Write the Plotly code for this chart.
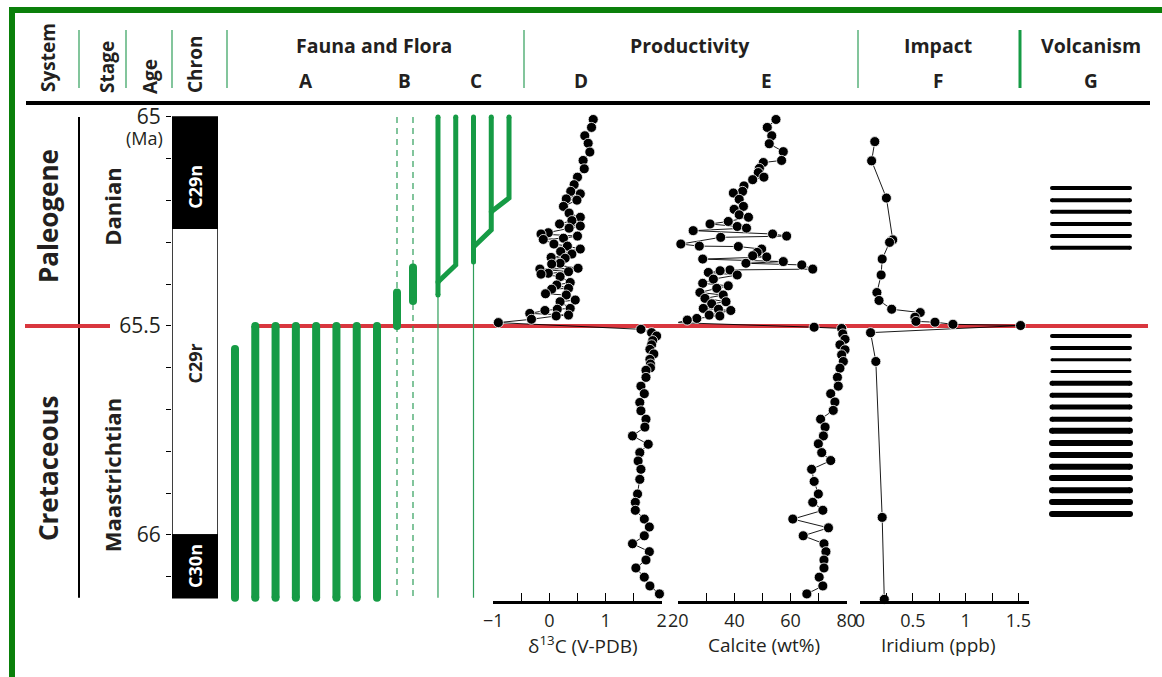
import plotly.graph_objects as go

W, H = 1162, 677

# ------------------------------------------------------------------ data
KPG_AGE = 65.5
age_ticks = [65.0, 65.1, 65.2, 65.3, 65.4, 65.5, 65.6, 65.7, 65.8, 65.9, 66.0, 66.1]
age_tick_labels = ["65", "", "", "", "", "65.5", "", "", "", "", "66", ""]

system_names = ["Paleogene", "Cretaceous"]
system_label_age = [65.237, 65.84]
stage_names = ["Danian", "Maastrichtian"]
stage_label_age = [65.215, 65.857]

chron_names = ["C29n", "C29r", "C30n"]
chron_top = [65.0, 65.266, 66.0]
chron_base = [65.266, 66.0, 66.15]
chron_normal = [True, False, True]
chron_label_age = [65.167, 65.59, 66.074]

# Fauna & flora ranges (ages in Ma)
A_top = [65.555, 65.5, 65.5, 65.5, 65.5, 65.5, 65.5, 65.5]
A_base = [66.15, 66.15, 66.15, 66.15, 66.15, 66.15, 66.15, 66.15]

B_range_top = [65.0, 65.0]
B_range_base = [66.15, 66.15]
B_thick_top = [65.42, 65.36]
B_thick_base = [65.5, 65.44]

C_top = [65.0, 65.0, 65.0, 65.0, 65.0]
C_origin = [65.426, 65.354, 65.347, 65.27, 65.194]
C_parent = [None, 0, None, 2, 3]
C_branch_age = [None, 65.395, None, 65.311, 65.227]
C_thin_base = [66.15, None, 66.15, None, None]

# D: delta13C
d13c_age = [65.006, 65.025, 65.045, 65.063, 65.084, 65.104, 65.124, 65.144, 65.162, 65.178,
            65.184, 65.196, 65.199, 65.214, 65.230, 65.240, 65.248, 65.256, 65.261, 65.266,
            65.277, 65.280, 65.285, 65.290, 65.293, 65.304, 65.309, 65.316, 65.322, 65.328,
            65.336, 65.338, 65.350, 65.352, 65.362, 65.364, 65.370, 65.374, 65.376, 65.382,
            65.396, 65.402, 65.410, 65.412, 65.423, 65.426, 65.438, 65.442, 65.458, 65.460,
            65.463, 65.470, 65.474, 65.476, 65.484, 65.492,
            65.508, 65.516, 65.524, 65.535, 65.545, 65.556, 65.567, 65.580, 65.591, 65.600,
            65.606, 65.623, 65.644, 65.662, 65.683, 65.703, 65.723, 65.742, 65.763, 65.783,
            65.803, 65.823, 65.843, 65.867, 65.902, 65.922, 65.941, 65.962, 65.981, 66.002,
            66.021, 66.040, 66.060, 66.079, 66.101, 66.122, 66.141]
d13c_val = [0.78, 0.75, 0.63, 0.69, 0.72, 0.60, 0.62, 0.50, 0.44, 0.38,
            0.55, 0.30, 0.49, 0.25, 0.35, 0.55, 0.40, 0.18, 0.55, 0.35,
            -0.02, -0.15, 0.50, 0.25, -0.11, 0.08, 0.32, 0.55, 0.20, 0.40,
            0.03, 0.28, 0.19, 0.04, 0.51, -0.17, 0.34, -0.02, -0.15, 0.19,
            0.37, 0.13, 0.34, 0.04, -0.07, 0.30, 0.46, 0.19, 0.37, 0.14,
            -0.08, -0.35, 0.34, 0.12, -0.32, -0.91,
            1.63, 1.82, 1.91, 1.84, 1.82, 1.79, 1.86, 1.79, 1.80, 1.80,
            1.72, 1.72, 1.63, 1.69, 1.61, 1.63, 1.72, 1.70, 1.48, 1.76,
            1.61, 1.58, 1.63, 1.61, 1.57, 1.53, 1.53, 1.69, 1.78, 1.69,
            1.48, 1.78, 1.72, 1.54, 1.69, 1.79, 1.96]

# E: calcite wt%
calc_age = [65.006, 65.025, 65.045, 65.064, 65.083, 65.104, 65.109, 65.123, 65.133, 65.144,
            65.150, 65.165, 65.178, 65.182, 65.197, 65.214, 65.221, 65.234, 65.240, 65.250,
            65.256, 65.262, 65.266, 65.272, 65.280, 65.285, 65.288, 65.304, 65.309, 65.310,
            65.316, 65.324, 65.332, 65.335, 65.340, 65.346, 65.350, 65.354, 65.364, 65.366,
            65.368, 65.372, 65.378, 65.388, 65.398, 65.404, 65.410, 65.420, 65.426, 65.434,
            65.442, 65.447, 65.458, 65.460, 65.463, 65.474, 65.476, 65.482, 65.486, 65.492,
            65.503, 65.506, 65.519, 65.532, 65.545, 65.557, 65.569, 65.585, 65.601, 65.623,
            65.644, 65.662, 65.682, 65.702, 65.723, 65.742, 65.763, 65.782, 65.803, 65.822,
            65.843, 65.872, 65.902, 65.922, 65.941, 65.962, 65.983, 66.002, 66.021, 66.040,
            66.060, 66.079, 66.101, 66.122, 66.141]
calc_val = [54.8, 51.7, 53.3, 52.4, 57.4, 56.8, 50.3, 48.9, 48.5, 50.5,
            46.5, 43.4, 42.9, 39.6, 41.7, 43.2, 39.9, 41.7, 45.0, 37.8,
            31.3, 41.0, 44.3, 25.3, 53.6, 58.6, 35.1, 20.9, 27.5, 41.4,
            49.7, 48.1, 46.5, 51.5, 28.7, 57.4, 44.1, 64.0, 67.9, 38.4,
            34.9, 30.7, 41.0, 32.5, 28.7, 37.8, 33.7, 27.7, 36.0, 29.5,
            37.0, 31.9, 28.9, 34.3, 38.7, 31.0, 34.8, 26.6, 23.2, 19.4,
            68.4, 78.2, 78.6, 79.4, 77.6, 79.4, 78.2, 78.8, 77.6, 76.7,
            77.0, 74.3, 75.8, 75.2, 70.7, 72.3, 71.7, 69.9, 71.1, 74.3,
            67.5, 68.4, 69.9, 67.9, 71.5, 60.8, 73.5, 64.5, 71.9, 72.6,
            71.9, 71.9, 70.2, 71.5, 65.8]

# F: iridium ppb
ir_age = [65.059, 65.105, 65.194, 65.294, 65.300, 65.340, 65.378, 65.420, 65.439, 65.460,
          65.468, 65.479, 65.489, 65.491, 65.496, 65.499, 65.516, 65.585, 65.958, 66.154]
ir_val = [0.14, 0.11, 0.25, 0.31, 0.28, 0.21, 0.20, 0.16, 0.18, 0.30,
          0.57, 0.52, 0.53, 0.71, 0.88, 1.52, 0.10, 0.15, 0.21, 0.23]

# G: volcanic (Deccan) lava layers
volc_age = [65.170, 65.199, 65.227, 65.256, 65.285, 65.313,
            65.524, 65.553, 65.581, 65.609, 65.637, 65.666, 65.694, 65.723,
            65.751, 65.780, 65.809, 65.837, 65.864, 65.893, 65.921, 65.950]
volc_width = [4, 4, 4, 4, 4, 4,
              4, 4, 3, 3, 5, 5, 5, 5, 6, 6, 6, 6, 6, 6, 6, 6]

# ------------------------------------------------------------------ style
FONT = "Open Sans"
TXT = "#231f20"
GREEN = "#169b45"
THIN_GREEN = "#2f9e5a"
RED = "#d9363e"


def px(x):
    return x / W


def py(y):
    return 1 - y / H


fig = go.Figure()


def add_line(xaxis, xs, ys, color, width, dash=None, caps=False):
    fig.add_trace(go.Scatter(x=xs, y=ys, xaxis=xaxis, yaxis="y", mode="lines",
                             line=dict(color=color, width=width, dash=dash),
                             hoverinfo="skip", showlegend=False, cliponaxis=False))
    if caps:
        fig.add_trace(go.Scatter(x=[xs[0], xs[-1]], y=[ys[0], ys[-1]], xaxis=xaxis, yaxis="y",
                                 mode="markers", marker=dict(color=color, size=width, line=dict(width=0)),
                                 hoverinfo="skip", showlegend=False, cliponaxis=False))


# ---- Fauna A
for i, (t, b) in enumerate(zip(A_top, A_base)):
    add_line("x2", [i, i], [t, b], GREEN, 8, caps=True)

# ---- Fauna B
for i in range(len(B_range_top)):
    add_line("x3", [i, i], [B_range_top[i], B_range_base[i]], THIN_GREEN, 1.2, dash="6px,5px")
    add_line("x3", [i, i], [B_thick_top[i], B_thick_base[i]], GREEN, 8, caps=True)

# ---- Fauna C
for i in range(len(C_top)):
    if C_thin_base[i] is not None:
        add_line("x4", [i, i], [C_origin[i], C_thin_base[i]], THIN_GREEN, 1.2)
for i in range(len(C_top)):
    if C_parent[i] is None:
        add_line("x4", [i, i], [C_top[i], C_origin[i]], GREEN, 5, caps=True)
    else:
        add_line("x4", [i, i, C_parent[i]], [C_top[i], C_origin[i], C_branch_age[i]], GREEN, 5, caps=True)

# ---- Geochemistry panels
marker = dict(color="black", size=10, line=dict(color="white", width=0.8))
for xa, ages, vals in (("x5", d13c_age, d13c_val), ("x6", calc_age, calc_val), ("x7", ir_age, ir_val)):
    pairs = sorted(zip(ages, vals))
    fig.add_trace(go.Scatter(x=[p[1] for p in pairs], y=[p[0] for p in pairs], xaxis=xa, yaxis="y",
                             mode="lines+markers", line=dict(color="black", width=0.9),
                             marker=marker, hoverinfo="skip", showlegend=False, cliponaxis=False))

# ---- Volcanism
for a, w in zip(volc_age, volc_width):
    add_line("x8", [0, 1], [a, a], "black", w, caps=True)

# ------------------------------------------------------------------ shapes
shapes = []
# chron column
for name, t, b, n in zip(chron_names, chron_top, chron_base, chron_normal):
    shapes.append(dict(type="rect", xref="x", yref="y", x0=0, x1=1, y0=t, y1=b,
                       fillcolor="black" if n else "white", line=dict(color="black", width=1.5)))
# system divider
shapes.append(dict(type="line", xref="paper", yref="y", x0=px(79), x1=px(79), y0=chron_top[0], y1=66.15,
                   line=dict(color="black", width=2)))
# K-Pg boundary
shapes.append(dict(type="line", xref="paper", yref="y", x0=px(25), x1=px(110), y0=KPG_AGE, y1=KPG_AGE,
                   line=dict(color=RED, width=4)))
shapes.append(dict(type="line", xref="paper", yref="y", x0=px(253), x1=px(1148), y0=KPG_AGE, y1=KPG_AGE,
                   line=dict(color=RED, width=4), layer="below"))
# header rule
shapes.append(dict(type="line", xref="paper", yref="paper", x0=px(26), x1=px(1150), y0=py(103), y1=py(103),
                   line=dict(color="black", width=4)))
# header separators
for sx in (79, 126, 172, 227, 524, 858):
    shapes.append(dict(type="line", xref="paper", yref="paper", x0=px(sx), x1=px(sx), y0=py(30), y1=py(88),
                       line=dict(color=THIN_GREEN, width=1.2)))
shapes.append(dict(type="line", xref="paper", yref="paper", x0=px(1020), x1=px(1020), y0=py(30), y1=py(88),
                   line=dict(color=GREEN, width=3)))
# frame
shapes.append(dict(type="line", xref="paper", yref="paper", x0=px(9), x1=px(1162), y0=py(10), y1=py(10),
                   line=dict(color="#0a800a", width=6)))
shapes.append(dict(type="line", xref="paper", yref="paper", x0=px(12), x1=px(12), y0=py(7), y1=py(677),
                   line=dict(color="#0a800a", width=6)))

# ------------------------------------------------------------------ annotations
ann = []


def txt(text, x, y, size, bold=False, angle=0, color=TXT, xanchor="center", yref="paper", xref="paper"):
    ann.append(dict(text=("<b>%s</b>" % text) if bold else text, x=x, y=y, xref=xref, yref=yref,
                    showarrow=False, textangle=angle, xanchor=xanchor, yanchor="middle",
                    font=dict(family=FONT, size=size, color=color)))


for label, cx, cy in (("System", 48, 58), ("Stage", 107, 67), ("Age", 150, 77), ("Chron", 195, 65)):
    txt(label, px(cx), py(cy), 19, bold=True, angle=-90)
for label, cx, cy, s in (("Fauna and Flora", 374, 46, 19.5), ("Productivity", 690, 46, 19.5),
                         ("Impact", 938, 46, 19.5), ("Volcanism", 1091, 46, 19.5),
                         ("A", 306, 81, 19), ("B", 405, 81, 19), ("C", 476, 81, 19),
                         ("D", 581, 81, 19), ("E", 766, 81, 19), ("F", 938, 81, 19), ("G", 1091, 81, 19)):
    txt(label, px(cx), py(cy), s, bold=True)

for name, a in zip(system_names, system_label_age):
    txt(name, px(48), a, 26, bold=True, angle=-90, yref="y")
for name, a in zip(stage_names, stage_label_age):
    txt(name, px(112), a, 22, bold=True, angle=-90, yref="y")
for name, a, n in zip(chron_names, chron_label_age, chron_normal):
    txt(name, 0.5, a, 18, bold=True, angle=-90, yref="y", xref="x", color="white" if n else TXT)

ann.append(dict(text="(Ma)", x=px(165), y=chron_top[0], xref="paper", yref="y", yshift=-21,
                showarrow=False, xanchor="right", yanchor="middle", font=dict(family=FONT, size=18, color=TXT)))

for label, cx in (("δ<sup>13</sup>C (V-PDB)", 583), ("Calcite (wt%)", 764), ("Iridium (ppb)", 938)):
    txt(label, px(cx), py(645), 19)

# ------------------------------------------------------------------ axes
hidden = dict(visible=False, anchor="y", showgrid=False, zeroline=False, automargin=False)
tickfont = dict(family=FONT, size=18, color=TXT)


def value_axis(dom, rng, tv, tt, minor_dtick, minor_t0):
    return dict(domain=[px(dom[0]), px(dom[1])], range=rng, anchor="y", showgrid=False, zeroline=False,
                automargin=False,
                showline=True, linecolor="black", linewidth=2.5, ticks="inside", ticklen=8, tickwidth=1.3,
                tickcolor="black", tickmode="array", tickvals=tv, ticktext=tt, tickfont=tickfont,
                ticklabelstandoff=2,
                minor=dict(tickmode="linear", tick0=minor_t0, dtick=minor_dtick, ticks="inside", ticklen=8,
                           tickwidth=1.3, tickcolor="black", showgrid=False))


fig.update_layout(
    template="none",
    width=W, height=H, autosize=False,
    margin=dict(l=0, r=0, t=0, b=0, pad=0),
    paper_bgcolor="white", plot_bgcolor="rgba(0,0,0,0)",
    showlegend=False,
    xaxis=dict(domain=[px(172), px(218)], range=[0, 1], **hidden),
    yaxis=dict(domain=[py(601), py(104)], range=[66.158, 64.969], anchor="x", side="left",
               showgrid=False, zeroline=False, showline=False, automargin=False,
               tickmode="array", tickvals=age_ticks, ticktext=age_tick_labels,
               ticks="outside", ticklen=5, tickwidth=1.2, tickcolor="black",
               tickfont=dict(family=FONT, size=21, color=TXT),
               ticklabelstandoff=1),
    xaxis2=dict(domain=[px(224.85), px(387.15)], range=[-0.5, 7.5], **hidden),
    xaxis3=dict(domain=[px(389), px(421)], range=[-0.5, 1.5], **hidden),
    xaxis4=dict(domain=[px(429.1), px(517.9)], range=[-0.5, 4.5], **hidden),
    xaxis5=value_axis((493.3, 661.7), [-1, 2], [-1, 0, 1, 2], ["\u22121", "0", "1", "2"], 0.5, -1),
    xaxis6=value_axis((678.3, 846.7), [20, 80], [20, 40, 60, 80], ["20", "40", "60", "80"], 10, 20),
    xaxis7=value_axis((860, 1029), [0, 1.6], [0, 0.5, 1, 1.5], ["0", "0.5", "1", "1.5"], 0.25, 0),
    xaxis8=dict(domain=[px(1052), px(1130)], range=[0, 1], **hidden),
    shapes=shapes,
    annotations=ann,
)

fig.write_html("out.html", config={"displayModeBar": False},
               post_script="document.body.style.margin='0';document.body.style.overflow='hidden';")
